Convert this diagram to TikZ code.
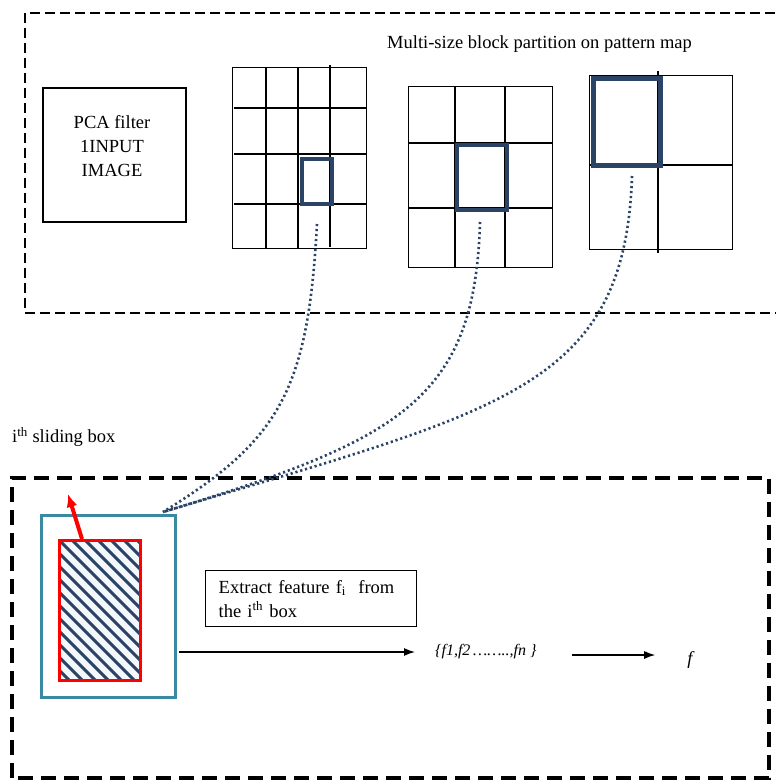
\documentclass[tikz,border=0pt]{standalone}
\usepackage{fontspec}
\setmainfont{Liberation Serif}
\usetikzlibrary{arrows.meta}
\definecolor{navy}{HTML}{2B4466}
\definecolor{teal}{HTML}{3A89A2}
\definecolor{hatchbg}{HTML}{F4F7FB}

\begin{document}
\begin{tikzpicture}[x=1pt, y=-1pt,
					every node/.style={font=\fontsize{18.5}{24}\selectfont},
					box/.style={draw=black, line width=1.4pt, inner sep=0pt},
					gridline/.style={draw=black, line width=1.2pt},
					hilite/.style={draw=navy, line width=4pt, inner sep=0pt},
					link/.style={draw=navy, line width=2.6pt, dash pattern=on 2.2pt off 2.8pt},
					arrow/.style={line width=1.3pt, -{Latex[length=11pt,width=8pt]}}]
\useasboundingbox (0,0) rectangle (776,780);

% top part: input image and block partitions
\draw[line width=2.3pt, dash pattern=on 10pt off 5pt] (800,313) -- (25,313) -- (25,13) -- (800,13);
\node[box, minimum width=143pt, minimum height=134pt] (pca) at (114.5,155) {};
\node[align=center] (pcatext) at (112,146) {PCA filter\\1INPUT\\IMAGE};
\node[anchor=west, inner sep=0pt] (title) at (387,44) {Multi-size block partition on pattern map};

% first map, 4x4
\node[box, minimum width=134pt, minimum height=181pt, anchor=north west] (g1) at (232,67) {};
\foreach \x in {266,298} \draw[gridline] (\x,67) -- (\x,248);
\draw[gridline] (330,65) -- (330,247);
\foreach \y in {108,154,204} \draw[gridline] (234,\y) -- (366,\y);
\node[hilite, minimum width=30pt, minimum height=45pt, anchor=north west] (b1) at (300,157) {};

% second map, 3x3
\node[box, minimum width=144pt, minimum height=181pt, anchor=north west] (g2) at (408,86) {};
\foreach \x in {455,505} \draw[gridline] (\x,86) -- (\x,267);
\foreach \y in {143,208} \draw[gridline] (408,\y) -- (552,\y);
\node[hilite, minimum width=50pt, minimum height=65pt, anchor=north west] (b2) at (455,143) {};

% third map, 2x2
\node[box, minimum width=143pt, minimum height=174pt, anchor=north west] (g3) at (589,75) {};
\draw[gridline] (658,71) -- (658,253);
\draw[gridline] (589,165) -- (732,165);
\node[hilite, line width=5pt, minimum width=67pt, minimum height=87pt, anchor=north west] (b3) at (591,76) {};

% bottom part: sliding box and features
\node[anchor=west, inner sep=0pt] (slidelabel) at (12,437) {i\textsuperscript{th} sliding box};
\draw[line width=3.6pt, dash pattern=on 15pt off 8pt] (12,778) -- (12,478) -- (769,478) -- (769,778) -- cycle;
\node[draw=teal, line width=3pt, inner sep=0pt, minimum width=134pt, minimum height=182pt, anchor=north west] (slide) at (40,514) {};
\coordinate (meet) at (163,512);

\begin{scope}
\clip (58,539) rectangle (139,679);
\fill[hatchbg] (58,539) rectangle (139,679);
\foreach \c in {-156,-143,...,80}
	\draw[navy, line width=3pt] (58+\c,539) -- ++(160,160);
\end{scope}
\node[draw=red, line width=2.5pt, inner sep=0pt, minimum width=81pt, minimum height=140pt, anchor=north west] (win) at (58,539) {};
\coordinate (up) at (68,494);
\draw[red, line width=4pt, -{Latex[length=13pt,width=11pt]}] (82,539) -- (up);

\node[box, anchor=north west, text width=185pt, inner xsep=13pt, inner ysep=4pt, minimum height=56pt, align=left] (extract) at (205,570) {Extract feature f\textsubscript{i}~ from\\the i\textsuperscript{th} box};

\node[font=\fontsize{16}{19}\selectfont\itshape, anchor=west, inner sep=0pt] (fset) at (435,652) {\{f1,f2\,……..,fn \}};
\node[font=\fontsize{18.5}{24}\selectfont\itshape, inner sep=0pt] (fout) at (690,660) {f};
\draw[arrow] ([xshift=2pt]slide.east |- fset.west) -- ([xshift=-20pt]fset.west);
\draw[arrow] ([xshift=-115pt, yshift=5pt]fout.west) -- ([xshift=-32pt, yshift=5pt]fout.west);

% links from blocks to the sliding box
\draw[link] ([yshift=-18pt]b1.south) .. controls (308,390) and (280,440) .. (meet);
\draw[link] ([yshift=-10pt, xshift=-2pt]b2.south) .. controls (475,400) and (400,440) .. (meet);
\draw[link] ([yshift=-8pt, xshift=5pt]b3.south) .. controls (625,390) and (500,410) .. (meet);
\end{tikzpicture}
\end{document}
